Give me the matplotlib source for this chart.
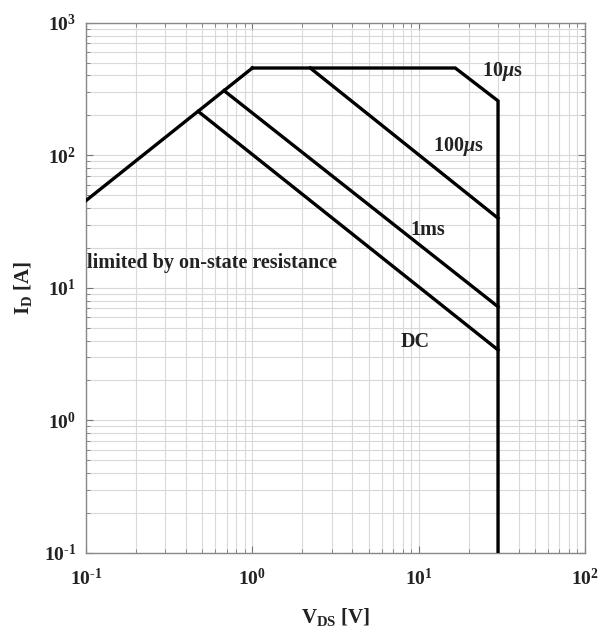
import numpy as np
import matplotlib
matplotlib.use("Agg")
import matplotlib.pyplot as plt
from matplotlib.ticker import LogLocator, NullFormatter, FuncFormatter

plt.rcParams['font.family'] = ['Liberation Serif', 'DejaVu Serif']
plt.rcParams['font.weight'] = 'bold'
plt.rcParams['mathtext.fontset'] = 'custom'
plt.rcParams['mathtext.rm'] = 'Liberation Serif:bold'
plt.rcParams['mathtext.bf'] = 'Liberation Serif:bold'
plt.rcParams['mathtext.it'] = 'Liberation Serif:italic:bold'

# safe operating area boundaries (V_DS in V, I_D in A)
v_ron = [0.1, 1.0]
i_ron = [45.5, 455]

v_10us = [1.0, 16.6, 30, 30]
i_10us = [455, 455, 257, 0.1]

v_100us = [2.23, 30]
i_100us = [455, 33.5]

v_1ms = [0.676, 30]
i_1ms = [307, 7.2]

v_dc = [0.473, 30]
i_dc = [214, 3.4]

labels = ['10$\\mu$s', '100$\\mu$s', '1ms', 'DC', 'limited by on-state resistance']
label_v = [24, 12.2, 8.9, 7.8, 0.101]
label_i = [427, 117, 27.4, 3.9, 15.4]


def decade_label(val, pos):
    # "10" with a hyphen-style exponent, like 10^-1
    e = int(round(np.log10(val)))
    sign = '\\text{-}' if e < 0 else ''
    return '10$^{%s%d}$' % (sign, abs(e))


fig = plt.figure(figsize=(6.01, 6.37), dpi=100)
ax = fig.add_axes([0.1431, 0.1319, 0.8303, 0.8325])

lw = 2.4
for v, i in [(v_ron, i_ron), (v_10us, i_10us), (v_100us, i_100us),
             (v_1ms, i_1ms), (v_dc, i_dc)]:
    ax.plot(v, i, color='black', linewidth=lw, solid_joinstyle='miter', zorder=3)

ax.set_xscale('log')
ax.set_yscale('log')
ax.set_xlim(0.1, 100)
ax.set_ylim(0.1, 1000)

ax.xaxis.set_major_locator(LogLocator(base=10, numticks=10))
ax.yaxis.set_major_locator(LogLocator(base=10, numticks=10))
ax.xaxis.set_minor_locator(LogLocator(base=10, subs=np.arange(2, 10), numticks=20))
ax.yaxis.set_minor_locator(LogLocator(base=10, subs=np.arange(2, 10), numticks=20))
ax.xaxis.set_major_formatter(FuncFormatter(decade_label))
ax.yaxis.set_major_formatter(FuncFormatter(decade_label))
ax.xaxis.set_minor_formatter(NullFormatter())
ax.yaxis.set_minor_formatter(NullFormatter())

ax.grid(True, which='both', color='#d9d9d9', linewidth=0.8)
ax.set_axisbelow(True)
ax.tick_params(which='both', direction='in', top=True, right=True, colors='#777777',
               labelcolor='#222222', labelsize=14)
ax.tick_params(which='major', length=5)
ax.tick_params(which='minor', length=3)
ax.tick_params(axis='x', which='major', pad=11)
ax.tick_params(axis='y', which='major', pad=7)
for s in ax.spines.values():
    s.set_color('#888888')
    s.set_linewidth(1.0)

ax.set_xlabel('V$_\\mathrm{DS}$ [V]', fontsize=15, fontweight='bold', color='#222222', labelpad=12)
ax.set_ylabel('I$_\\mathrm{D}$ [A]', fontsize=15, fontweight='bold', color='#222222', labelpad=7)

for text, v, i in zip(labels, label_v, label_i):
    ax.text(v, i, text, fontsize=14.5, fontweight='bold', color='#222222',
            ha='left', va='center', zorder=4)

fig.savefig('out.png', dpi=100)
